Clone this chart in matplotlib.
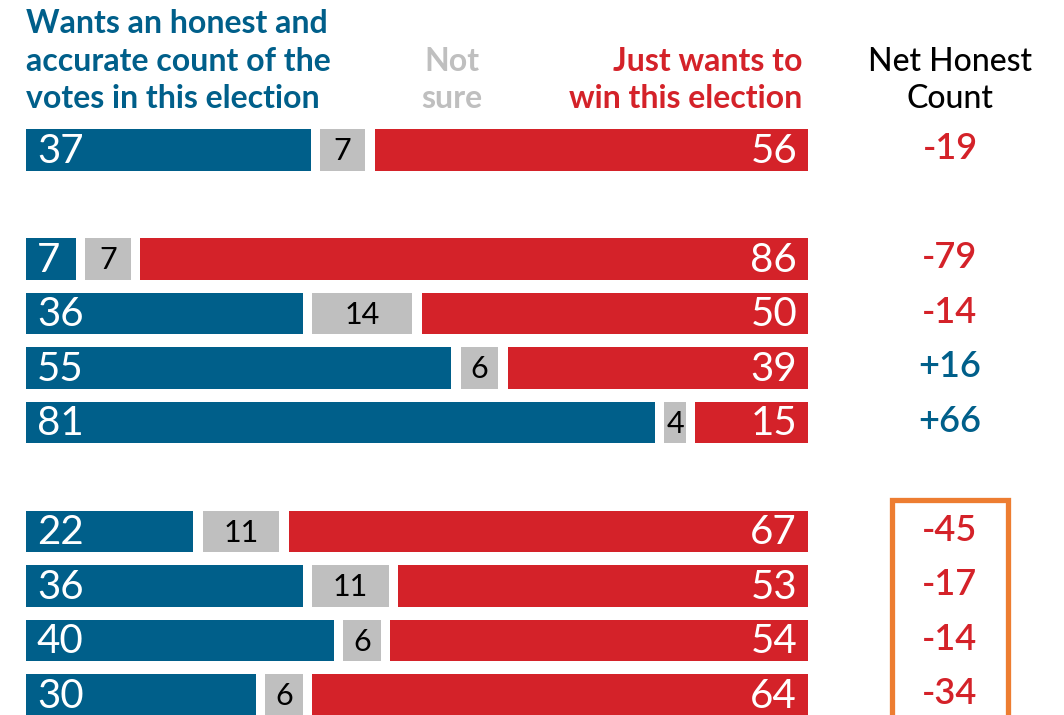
import matplotlib.pyplot as plt

plt.rcParams['font.family'] = ['Lato', 'DejaVu Sans']

# Data (percent)
honest = [37, 7, 36, 55, 81, 22, 36, 40, 30]
not_sure = [7, 7, 14, 6, 4, 11, 11, 6, 6]
win = [56, 86, 50, 39, 15, 67, 53, 54, 64]
net = [-19, -79, -14, 16, 66, -45, -17, -14, -34]
rows = [0, 2, 3, 4, 5, 7, 8, 9, 10]
boxed_rows = [7, 8, 9, 10]

BLUE = '#005F8A'
RED = '#D42229'
GRAY = '#BFBFBF'
ORANGE = '#ED7D31'

fig = plt.figure(figsize=(10.64, 7.15), dpi=100)
ax = fig.add_axes([0, 0, 1, 1])
ax.set_xlim(-26 / 7.82, (1064 - 26) / 7.82)
ax.set_ylim((715 - 150) / 54.5, -150 / 54.5)
ax.axis('off')

gap = 0.6  # half of the white gap between segments, in data units
h = 0.77
for y, b, g, r in zip(rows, honest, not_sure, win):
    ax.barh(y, b - gap, left=0, height=h, color=BLUE)
    ax.barh(y, g - 2 * gap, left=b + gap, height=h, color=GRAY)
    ax.barh(y, r - gap, left=b + g + gap, height=h, color=RED)
    ax.text(1.4, y + 0.02, str(b), color='white', fontsize=29,
            ha='left', va='center')
    ax.text(b + g / 2, y + 0.02, str(g), color='black', fontsize=22,
            ha='center', va='center')
    ax.text(98.6, y + 0.02, str(r), color='white', fontsize=29,
            ha='right', va='center')

net_x = (950 - 26) / 7.82
for y, n in zip(rows, net):
    label = f'+{n}' if n > 0 else f'{n}'
    ax.text(net_x, y - 0.02, label, color=BLUE if n > 0 else RED,
            fontsize=26, fontweight='semibold', ha='center', va='center')

# Orange bracket around the last group of net values
bx0, bx1 = (892 - 26) / 7.82, (1008 - 26) / 7.82
top = boxed_rows[0] - 0.58
ax.plot([bx0, bx0, bx1, bx1], [boxed_rows[-1] + 1, top, top, boxed_rows[-1] + 1],
        color=ORANGE, lw=3.8, solid_joinstyle='miter')

# Column headers
base = [(33 - 150) / 54.5, (71 - 150) / 54.5, (108 - 150) / 54.5]
hsize = 23
for yb, line in zip(base, ['Wants an honest and', 'accurate count of the',
                          'votes in this election']):
    ax.text(0, yb, line, color=BLUE, fontsize=hsize, fontweight='bold',
            ha='left', va='baseline')
for yb, line in zip(base[1:], ['Not', 'sure']):
    ax.text((452 - 26) / 7.82, yb, line, color=GRAY, fontsize=hsize,
            fontweight='bold', ha='center', va='baseline')
for yb, line in zip(base[1:], ['Just wants to', 'win this election']):
    ax.text(99.3, yb, line, color=RED, fontsize=hsize, fontweight='bold',
            ha='right', va='baseline')
for yb, line in zip(base[1:], ['Net Honest', 'Count']):
    ax.text(net_x, yb, line, color='black', fontsize=hsize,
            fontweight='medium', ha='center', va='baseline')

fig.savefig('out.png', dpi=100)
